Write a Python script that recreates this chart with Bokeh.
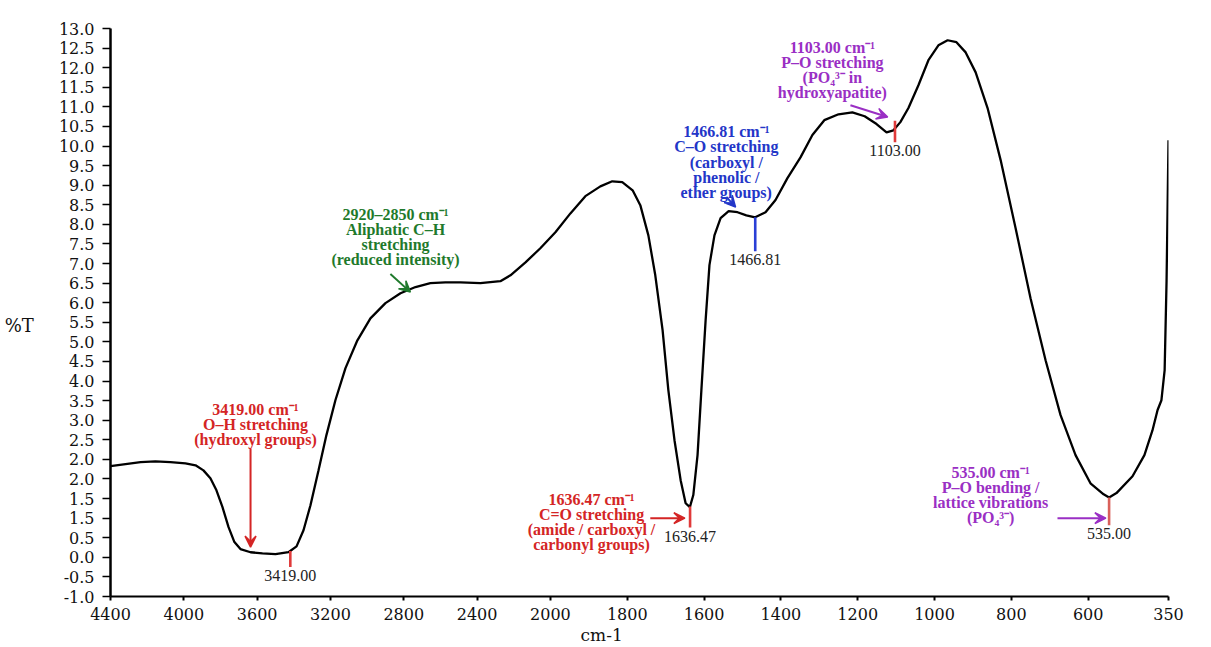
import numpy as np
from bokeh.plotting import figure
from bokeh.models import Range1d, FixedTicker, Arrow, VeeHead
from bokeh.core.properties import value
from bokeh.embed import file_html
from bokeh.resources import INLINE

# ---------------- data ----------------
wavenumber = [4400, 4318, 4236, 4155, 4073, 3991, 3936, 3893, 3855, 3822, 3789, 3756,
              3724, 3691, 3636, 3571, 3500, 3429, 3385, 3347, 3309, 3265, 3222, 3173,
              3118, 3053, 2982, 2900, 2818, 2736, 2655, 2573, 2491, 2382, 2273, 2218,
              2136, 2055, 1987, 1948, 1909, 1870, 1839, 1813, 1786, 1766, 1745, 1727,
              1708, 1693, 1677, 1661, 1648, 1637, 1628, 1617, 1607, 1596, 1586, 1573,
              1557, 1536, 1513, 1490, 1467, 1440, 1414, 1383, 1349, 1318, 1287, 1250,
              1214, 1182, 1151, 1125, 1107, 1089, 1068, 1042, 1016, 990, 966, 943,
              919, 893, 862, 828, 789, 750, 711, 672, 633, 593, 552, 535,
              512, 462, 425, 400, 384, 372, 362, 356, 353, 350]
transmittance = [1.83, 1.88, 1.93, 1.95, 1.93, 1.90, 1.85, 1.72, 1.52, 1.21, 0.78, 0.27,
                 -0.11, -0.29, -0.37, -0.40, -0.42, -0.37, -0.22, 0.19, 0.83, 1.72, 2.62, 3.51,
                 4.33, 5.04, 5.60, 5.99, 6.24, 6.40, 6.50, 6.52, 6.52, 6.50, 6.55, 6.70,
                 7.03, 7.39, 7.80, 8.28, 8.72, 8.97, 9.10, 9.08, 8.87, 8.49, 7.72, 6.70,
                 5.30, 3.77, 2.49, 1.47, 0.88, 0.78, 1.09, 2.11, 3.77, 5.55, 6.96, 7.72,
                 8.16, 8.34, 8.31, 8.23, 8.18, 8.31, 8.62, 9.18, 9.71, 10.28, 10.66, 10.81,
                 10.86, 10.76, 10.56, 10.35, 10.40, 10.61, 10.97, 11.55, 12.19, 12.57, 12.70, 12.65,
                 12.39, 11.88, 10.97, 9.64, 7.90, 6.11, 4.53, 3.13, 2.11, 1.39, 1.11, 1.03,
                 1.14, 1.57, 2.11, 2.74, 3.26, 3.51, 4.28, 6.57, 8.34, 10.15]

x_tick_values = [4400, 4000, 3600, 3200, 2800, 2400, 2000, 1800, 1600, 1400, 1200, 1000, 800, 600, 350]
y_tick_values = [-1.5, -1.0, -0.5, 0.0, 0.5, 1.0, 1.5, 2.0, 2.5, 3.0, 3.5, 4.0, 4.5, 5.0, 5.5,
                 6.0, 6.5, 7.0, 7.5, 8.0, 8.5, 9.0, 9.5, 10.0, 10.5, 11.0, 11.5, 12.0, 12.5, 13.0]
y_tick_labels = ["-1.0", "-0.5", "0.0", "0.5", "1.5", "1.5", "2.0", "2.0", "2.5", "3.0", "3.5",
                 "4.0", "4.5", "5.0", "5.5", "6.0", "6.5", "7.0", "7.5", "8.0", "8.5", "9.0",
                 "9.5", "10.0", "10.5", "11.0", "11.5", "12.0", "12.5", "13.0"]

peak_wn = [3419.00, 1636.47, 1466.81, 1103.00, 535.00]
peak_labels = ["3419.00", "1636.47", "1466.81", "1103.00", "535.00"]
peak_colors = ["#e03a3a", "#e03a3a", "#2a3fd6", "#e03a3a", "#d9605a"]

annot_text = [
    "3419.00 cm\u207b\u00b9\nO\u2013H stretching\n(hydroxyl groups)",
    "2920\u20132850 cm\u207b\u00b9\nAliphatic C\u2013H\nstretching\n(reduced intensity)",
    "1636.47 cm\u207b\u00b9\nC=O stretching\n(amide / carboxyl /\ncarbonyl groups)",
    "1466.81 cm\u207b\u00b9\nC\u2013O stretching\n(carboxyl /\nphenolic /\nether groups)",
    "1103.00 cm\u207b\u00b9\nP\u2013O stretching\n(PO\u2084\u00b3\u207b in\nhydroxyapatite)",
    "535.00 cm\u207b\u00b9\nP\u2013O bending /\nlattice vibrations\n(PO\u2084\u00b3\u207b)",
]
annot_colors = ["#d42525", "#1f7a2c", "#d42525", "#2336c8", "#9a2fc4", "#9a2fc4"]

x_title = "cm-1"
y_title = "%T"

# ---------------- layout constants ----------------
# piecewise wavenumber axis (scale doubles below 2000 cm-1), in tick-interval units
AXIS_WN = [350, 600, 2000, 4400]
AXIS_U = [14.43, 13.335, 6.0, 0.0]


def xpos(w):
    return np.interp(np.asarray(w, dtype=float), AXIS_WN, AXIS_U)


annot_pos = [(3609, 3.50), (2845, 8.47), (1893, 1.20), (1542, 10.58), (1266, 12.74), (854, 1.88)]
arrow_pos = [((3636, 2.28), (3636, -0.24)),
             ((2873, 6.73), (2764, 6.27)),
             ((1740, 0.50), (1650, 0.50)),
             ((1542, 8.70), (1518, 8.44)),
             ((1219, 11.04), (1122, 10.74)),
             ((680, 0.50), (545, 0.50))]
marker_len = [0.41, 0.54, 0.87, 0.55, 0.71]
marker_raise = [0.0, 0.0, 0.0, 0.2, 0.0]

SERIF = "Liberation Serif"
AXFONT = "DejaVu Serif"

p = figure(width=1200, height=647, x_range=Range1d(0, AXIS_U[0]), y_range=Range1d(-1.5, 13.0),
           output_backend="svg", toolbar_location=None,
           min_border_left=110, min_border_right=32, min_border_top=28, min_border_bottom=51)
p.title.visible = False
p.grid.visible = False
p.outline_line_color = None
p.background_fill_color = "white"
p.border_fill_color = "white"

# x axis
xt = [float(v) for v in xpos(x_tick_values)]
p.xaxis.ticker = FixedTicker(ticks=xt)
p.xaxis.major_label_overrides = {t: str(v) for t, v in zip(xt, x_tick_values)}
p.xaxis.minor_tick_line_color = None
p.xaxis.major_tick_out = 4
p.xaxis.major_tick_in = 0
p.xaxis.major_label_standoff = 7
p.xaxis.axis_line_width = 2
p.xaxis.major_tick_line_width = 2
p.xaxis.major_label_text_font = AXFONT
p.xaxis.major_label_text_font_size = "16px"
p.xaxis.major_label_text_color = "#111111"
# trailing no-break spaces shift the centred title towards the left like the reference
p.xaxis.axis_label = x_title + "\u00a0" * 14
p.xaxis.axis_label_standoff = 2
p.xaxis.axis_label_text_font = AXFONT
p.xaxis.axis_label_text_font_size = "17px"
p.xaxis.axis_label_text_font_style = "normal"
p.xaxis.axis_label_text_color = "#111111"

# y axis
p.yaxis.ticker = FixedTicker(ticks=y_tick_values)
p.yaxis.major_label_overrides = {t: s for t, s in zip(y_tick_values, y_tick_labels)}
p.yaxis.minor_tick_line_color = None
p.yaxis.major_tick_out = 8
p.yaxis.major_tick_in = 0
p.yaxis.major_label_standoff = 8
p.yaxis.axis_line_width = 2.5
p.yaxis.major_tick_line_width = 1.5
p.yaxis.major_label_text_font = AXFONT
p.yaxis.major_label_text_font_size = "16px"
p.yaxis.major_label_text_color = "#111111"
p.yaxis.axis_label = "\n" + y_title
p.yaxis.axis_label_standoff = 22
p.yaxis.axis_label_text_font = AXFONT
p.yaxis.axis_label_text_font_size = "18px"
p.yaxis.axis_label_text_font_style = "normal"
p.yaxis.axis_label_text_color = "#111111"
if "axis_label_orientation" in p.yaxis[0].properties():
    p.yaxis.axis_label_orientation = "horizontal"

# spectrum
p.line(xpos(wavenumber), transmittance, line_color="black", line_width=2.3)

# peak markers
wn_inc = np.asarray(wavenumber[::-1], dtype=float)
t_inc = np.asarray(transmittance[::-1], dtype=float)
curve_at = np.interp(peak_wn, wn_inc, t_inc)
m_top = curve_at + np.asarray(marker_raise)
m_bot = m_top - np.asarray(marker_len)
mx = xpos(peak_wn)
p.segment(x0=mx, y0=m_top, x1=mx, y1=m_bot, line_color=peak_colors, line_width=2.6)
p.text(x=mx, y=m_bot, text=peak_labels, text_align="center", text_baseline="top", y_offset=3,
       text_font=value(SERIF), text_font_size="16px", text_color="#222222")

# annotation blocks
p.text(x=xpos([a[0] for a in annot_pos]), y=[a[1] for a in annot_pos], text=annot_text,
       text_align="center", text_baseline="top", text_font=value(SERIF),
       text_font_style="bold", text_font_size="16px", text_line_height=0.89,
       text_color=annot_colors)

for ((w0, t0), (w1, t1)), c in zip(arrow_pos, annot_colors):
    p.add_layout(Arrow(end=VeeHead(size=11, line_color=c, fill_color=c, line_width=1.5),
                       x_start=float(xpos(w0)), y_start=t0, x_end=float(xpos(w1)), y_end=t1,
                       line_color=c, line_width=2))

open("out.html", "w").write(file_html(p, INLINE))
